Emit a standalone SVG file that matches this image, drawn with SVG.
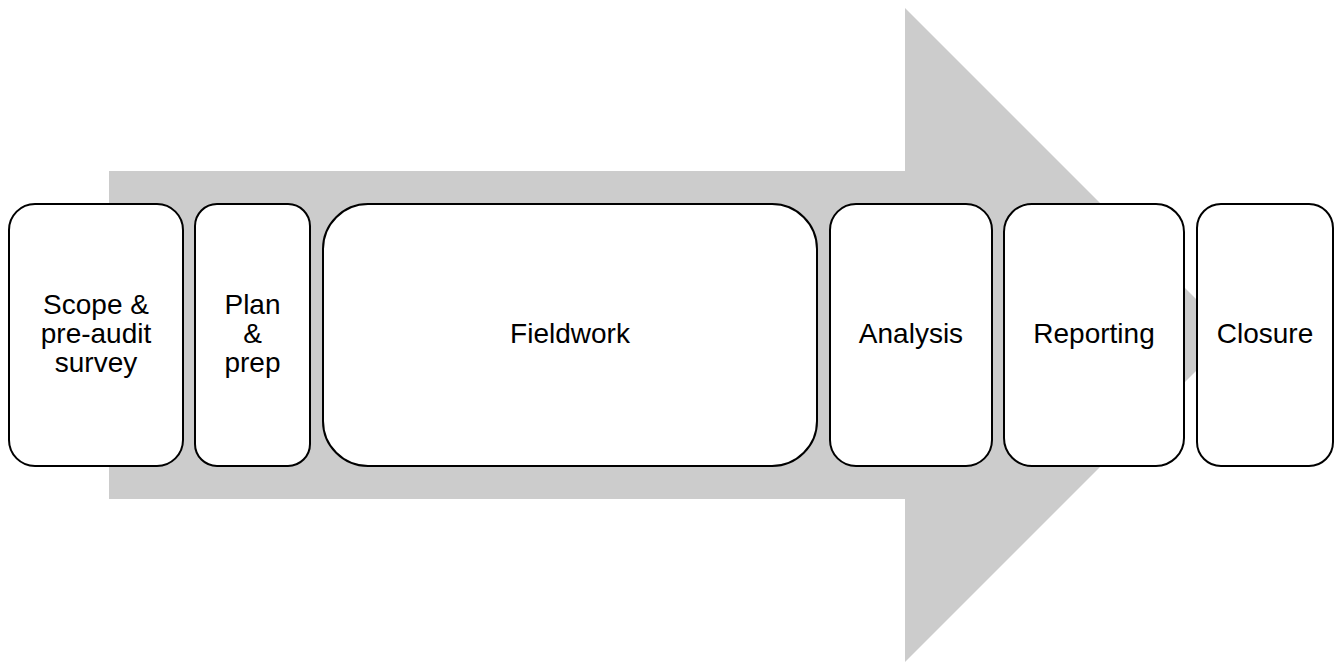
<svg xmlns="http://www.w3.org/2000/svg" width="1338" height="663" viewBox="0 0 1338 663">
<style>
.box{fill:#fff;stroke:#000;stroke-width:2}
.t{font-family:"Liberation Sans",Arial,sans-serif;font-size:28px;fill:#000;text-anchor:middle}
</style>
<rect width="1338" height="663" fill="#fff"/>
<g id="arrow">
<polygon points="109,171 905,171 905,8 1232,335 905,662 905,499 109,499" fill="#cccccc"/>
</g>
<g id="connectors"></g>
<g id="scope">
<rect class="box" x="9" y="204" width="174" height="262" rx="26"/>
<text class="t" x="96" y="314">Scope &amp;</text>
<text class="t" x="96" y="343">pre-audit</text>
<text class="t" x="96" y="372">survey</text>
</g>
<g id="plan">
<rect class="box" x="195" y="204" width="115" height="262" rx="22"/>
<text class="t" x="252.5" y="314">Plan</text>
<text class="t" x="252.5" y="343">&amp;</text>
<text class="t" x="252.5" y="372">prep</text>
</g>
<g id="fieldwork">
<rect class="box" x="323" y="204" width="494" height="262" rx="45"/>
<text class="t" x="570" y="343">Fieldwork</text>
</g>
<g id="analysis">
<rect class="box" x="830" y="204" width="162" height="262" rx="26"/>
<text class="t" x="911" y="343">Analysis</text>
</g>
<g id="reporting">
<rect class="box" x="1004" y="204" width="180" height="262" rx="28"/>
<text class="t" x="1094" y="343">Reporting</text>
</g>
<g id="closure">
<rect class="box" x="1197" y="204" width="136" height="262" rx="24"/>
<text class="t" x="1265" y="343">Closure</text>
</g>
</svg>
